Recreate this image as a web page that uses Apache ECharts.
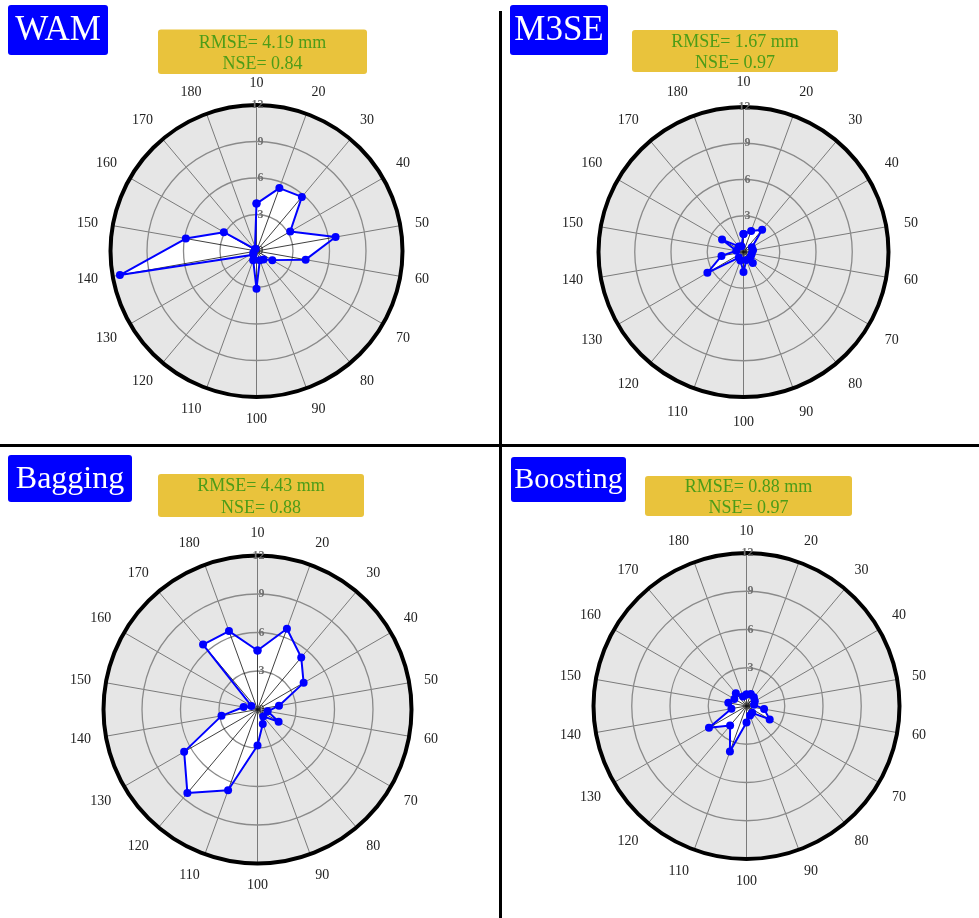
<!DOCTYPE html>
<html>
<head>
<meta charset="utf-8">
<script src="https://cdn.jsdelivr.net/npm/echarts@6/dist/echarts.min.js"></script>
<style>
  html, body { margin: 0; padding: 0; background: #ffffff; }
  #chart { width: 979px; height: 918px; }
</style>
</head>
<body>
<div id="chart"></div>
<script>
// Direction sectors around each rose (clockwise from the top)
const directions = ['10', '20', '30', '40', '50', '60', '70', '80', '90',
                    '100', '110', '120', '130', '140', '150', '160', '170', '180'];
// Radial scale (mm)
const radiusTicks = [0, 3, 6, 9, 12];

// Error magnitude per direction, one list per model (mm)
const wamValues      = [3.9, 5.5, 5.8, 3.2, 6.6, 4.1, 1.5, 0.9, 0.8, 3.1, 0.8, 0.4, 0.3, 11.4, 5.9, 3.1, 0.2, 0.2];
const m3seValues     = [1.5, 1.85, 2.4, 0.8, 0.8, 0.7, 0.7, 1.2, 0.7, 1.65, 0.75, 0.6, 3.45, 1.85, 0.6, 2.05, 0.6, 0.5];
const baggingValues  = [4.6, 6.7, 5.3, 4.15, 1.7, 0.8, 1.9, 0.7, 1.2, 2.8, 6.7, 8.5, 6.6, 2.85, 1.1, 0.55, 6.6, 6.5];
const boostingValues = [0.9, 1.0, 0.9, 0.75, 0.6, 1.4, 2.1, 0.7, 0.8, 1.3, 3.8, 2.0, 3.4, 1.2, 1.45, 1.1, 1.3, 0.8];

// Model names and their scores
const modelNames = ['WAM', 'M3SE', 'Bagging', 'Boosting'];
const rmseValues = ['4.19', '1.67', '4.43', '0.88'];
const nseValues  = ['0.84', '0.97', '0.88', '0.97'];

const seriesValues = [wamValues, m3seValues, baggingValues, boostingValues];

// Panel geometry
const panels = [
  { center: [256.5, 251],   radius: 146, labelMargin: 15, nameBox: [8, 5, 100, 50, 35],     scoreBox: [158, 29.5, 209, 44.5] },
  { center: [743.5, 252],   radius: 145, labelMargin: 18, nameBox: [510, 5, 98, 50, 35],    scoreBox: [632, 30, 206, 42] },
  { center: [257.5, 709.5], radius: 154, labelMargin: 15, nameBox: [8, 455, 124, 47, 32],   scoreBox: [158, 474, 206, 43] },
  { center: [746.5, 706],   radius: 153, labelMargin: 15, nameBox: [511, 457, 115, 45, 30], scoreBox: [645, 476, 207, 40] }
];

const SERIF = "'Liberation Serif', 'Times New Roman', 'DejaVu Serif', serif";
const BLUE = '#0000ff';
const N = directions.length;

const polar = [], angleAxis = [], radiusAxis = [], series = [], graphic = [];

const angleBase = {
  type: 'value',
  min: 0,
  max: N,
  interval: 1,
  startAngle: 90,
  clockwise: true
};
const radiusBase = {
  type: 'value',
  min: radiusTicks[0],
  max: radiusTicks[radiusTicks.length - 1],
  interval: radiusTicks[1] - radiusTicks[0]
};

// main polar systems: 0..3, grey backdrop polar systems: 4..7
panels.forEach((p) => polar.push({ center: p.center, radius: p.radius }));
panels.forEach((p) => polar.push({ center: p.center, radius: p.radius }));

panels.forEach((p, k) => {
  const values = seriesValues[k];

  // spokes, outer rim and direction labels
  angleAxis.push(Object.assign({}, angleBase, {
    polarIndex: k,
    z: 1,
    axisLine: { show: true, lineStyle: { color: '#000', width: 4 } },
    axisTick: { show: false },
    axisLabel: {
      margin: p.labelMargin, fontSize: 14, color: '#222', fontFamily: SERIF,
      formatter: (v) => (directions[v] !== undefined ? directions[v] : '')
    },
    splitLine: { show: true, lineStyle: { color: '#5e5e5e', width: 0.8 } },
    splitArea: { show: false }
  }));

  // rings and radial tick labels
  radiusAxis.push(Object.assign({}, radiusBase, {
    polarIndex: k,
    z: 3,
    axisLine: { show: false },
    axisTick: { show: false },
    axisLabel: {
      margin: -7,
      fontSize: 12,
      fontWeight: 'bold',
      fontFamily: SERIF,
      color: (v) => (v === 12 || v === 0 ? '#111' : '#6f6f6f')
    },
    splitLine: {
      show: true,
      lineStyle: { color: ['#8a8a8a', '#8a8a8a', '#8a8a8a', '#8a8a8a', '#000'], width: 1.3 }
    }
  }));

  // white wedges between neighbouring directions
  series.push({
    type: 'custom',
    coordinateSystem: 'polar',
    polarIndex: k,
    data: values.map((v, i) => [v, i]),
    z: 2,
    silent: true,
    renderItem: (params, api) => {
      const a = api.value(1);
      const j = (params.dataIndex + 1) % N;
      const c = api.coord([0, a]);
      const p1 = api.coord([api.value(0), a]);
      const p2 = api.coord([values[j], a + 1]);
      return {
        type: 'polygon',
        shape: { points: [c, p1, p2] },
        style: { fill: '#ffffff', stroke: '#ffffff', lineWidth: 0.6 }
      };
    },
    animation: false
  });

  // thin dark rays from the centre to each point
  series.push({
    type: 'custom',
    coordinateSystem: 'polar',
    polarIndex: k,
    data: values.map((v, i) => [v, i]),
    z: 4,
    silent: true,
    renderItem: (params, api) => {
      const a = api.value(1);
      const p0 = api.coord([0, a]);
      const p1 = api.coord([api.value(0), a]);
      return {
        type: 'line',
        shape: { x1: p0[0], y1: p0[1], x2: p1[0], y2: p1[1] },
        style: { stroke: '#111', lineWidth: 0.8 }
      };
    },
    animation: false
  });

  // blue outline with markers
  series.push({
    type: 'line',
    coordinateSystem: 'polar',
    polarIndex: k,
    data: values.map((v, i) => [v, i]).concat([[values[0], 0]]),
    z: 5,
    symbol: 'circle',
    symbolSize: 8,
    showAllSymbol: true,
    lineStyle: { color: BLUE, width: 2 },
    itemStyle: { color: BLUE },
    animation: false
  });

  // model name box
  const nb = p.nameBox;
  graphic.push({
    type: 'rect', shape: { x: nb[0], y: nb[1], width: nb[2], height: nb[3], r: 3 },
    style: { fill: BLUE }, z: 10
  });
  graphic.push({
    type: 'text', x: nb[0] + nb[2] / 2, y: nb[1] + nb[3] / 2 + 1, z: 11,
    style: { text: modelNames[k], fill: '#ffffff', font: nb[4] + 'px ' + SERIF, align: 'center', verticalAlign: 'middle' }
  });

  // score box
  const sb = p.scoreBox;
  graphic.push({
    type: 'rect', shape: { x: sb[0], y: sb[1], width: sb[2], height: sb[3], r: 3 },
    style: { fill: '#e9c33c' }, z: 10
  });
  graphic.push({
    type: 'text', x: sb[0] + sb[2] / 2, y: sb[1] + sb[3] / 2 + 2, z: 11,
    style: {
      text: 'RMSE= ' + rmseValues[k] + ' mm\nNSE= ' + nseValues[k],
      fill: '#4c9c18', font: '18px ' + SERIF, align: 'center', verticalAlign: 'middle', lineHeight: 21.5
    }
  });
});

// grey backdrop discs behind each rose
panels.forEach((p, k) => {
  angleAxis.push(Object.assign({}, angleBase, {
    polarIndex: 4 + k,
    z: 0,
    axisLine: { show: false },
    axisTick: { show: false },
    axisLabel: { show: false },
    splitLine: { show: false },
    splitArea: { show: true, areaStyle: { color: ['#e6e6e6'] } }
  }));
  radiusAxis.push(Object.assign({}, radiusBase, {
    polarIndex: 4 + k,
    z: 0,
    axisLine: { show: false },
    axisTick: { show: false },
    axisLabel: { show: false },
    splitLine: { show: false },
    splitArea: { show: false }
  }));
});

// panel separators
graphic.push({ type: 'line', shape: { x1: 500.5, y1: 11, x2: 500.5, y2: 918 }, style: { stroke: '#000', lineWidth: 3 }, z: 12 });
graphic.push({ type: 'line', shape: { x1: 0, y1: 445.5, x2: 979, y2: 445.5 }, style: { stroke: '#000', lineWidth: 3 }, z: 12 });

const chart = echarts.init(document.getElementById('chart'), null, { renderer: 'canvas' });
chart.setOption({
  backgroundColor: '#ffffff',
  animation: false,
  polar, angleAxis, radiusAxis, series, graphic
});
</script>
</body>
</html>
